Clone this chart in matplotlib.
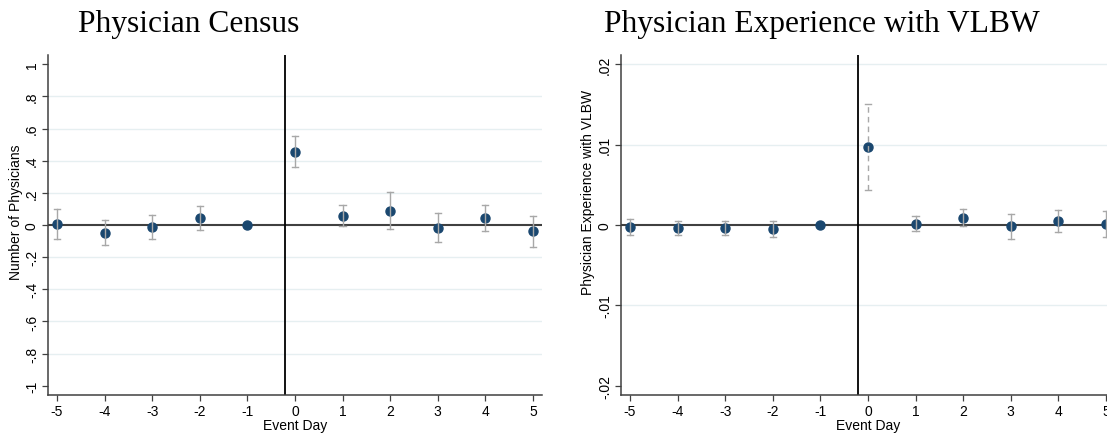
import numpy as np
import matplotlib.pyplot as plt

# Event-study estimates with 95% confidence intervals
event_day = [-5, -4, -3, -2, -1, 0, 1, 2, 3, 4, 5]

census_coef = [0.004, -0.050, -0.012, 0.041, 0.0, 0.456, 0.056, 0.089, -0.019, 0.046, -0.039]
census_hi = [0.100, 0.031, 0.064, 0.120, 0.0, 0.554, 0.124, 0.205, 0.075, 0.127, 0.058]
census_lo = [-0.090, -0.127, -0.085, -0.031, 0.0, 0.363, -0.008, -0.027, -0.106, -0.035, -0.137]

vlbw_coef = [-0.0002, -0.0004, -0.0004, -0.0005, 0.0, 0.00975, 0.00017, 0.0009, -0.0001, 0.00046, 0.0001]
vlbw_hi = [0.00075, 0.0005, 0.0005, 0.0005, 0.0, 0.0151, 0.0011, 0.0020, 0.0014, 0.0019, 0.00175]
vlbw_lo = [-0.0012, -0.0012, -0.0012, -0.0015, 0.0, 0.0044, -0.0008, -0.00017, -0.0017, -0.0009, -0.0015]

census_ticks = [-1, -0.8, -0.6, -0.4, -0.2, 0, 0.2, 0.4, 0.6, 0.8, 1]
census_ticklabels = ['-1', '-.8', '-.6', '-.4', '-.2', '0', '.2', '.4', '.6', '.8', '1']
vlbw_ticks = [-0.02, -0.01, 0, 0.01, 0.02]
vlbw_ticklabels = ['-.02', '-.01', '0', '.01', '.02']

navy = '#1a476f'
ci_gray = '#a8a8a8'
axis_gray = '#404040'
grid_col = '#e6eff1'

plt.rcParams['font.family'] = ['Liberation Sans', 'DejaVu Sans']
fig = plt.figure(figsize=(11.07, 4.35), dpi=100)

W, H = 1107, 435


def panel(left_px, ylim, ticks, ticklabels, grid_ticks, coef, lo, hi, dashed_day=None):
    right_px = left_px + 494
    ax = fig.add_axes([left_px / W, 1 - 396 / H, (right_px - left_px) / W, 340 / H])
    ax.set_xlim(-5.19, 5.19)
    ax.set_ylim(-ylim, ylim)
    for g in grid_ticks:
        ax.axhline(g, color=grid_col, lw=1.0, zorder=0)
    ax.axhline(0, color=axis_gray, lw=1.5, zorder=1)
    ax.axvline(-0.2, color='black', lw=1.3, zorder=1)
    ax.plot(event_day, coef, 'o', color=navy, ms=6.5, zorder=3)
    for d, c, l, h in zip(event_day, coef, lo, hi):
        if l == h:
            continue
        ls = (0, (4, 3)) if d == dashed_day else '-'
        ax.plot([d, d], [l, h], color=ci_gray, lw=1.0, ls=ls, zorder=4)
        ax.plot([d - 0.065, d + 0.065], [h, h], color=ci_gray, lw=1.0, zorder=4)
        ax.plot([d - 0.065, d + 0.065], [l, l], color=ci_gray, lw=1.0, zorder=4)
    ax.set_xticks(event_day)
    ax.set_xticklabels([str(d) for d in event_day], fontsize=10)
    ax.set_yticks(ticks)
    ax.set_yticklabels(ticklabels, fontsize=10, rotation=90, va='center')
    for s in ['top', 'right']:
        ax.spines[s].set_visible(False)
    for s in ['left', 'bottom']:
        ax.spines[s].set_color(axis_gray)
        ax.spines[s].set_linewidth(1.1)
    ax.tick_params(direction='out', length=4.5, width=0.9, color=axis_gray, pad=2)
    ax.set_xlabel('Event Day', fontsize=10, labelpad=0)
    return ax


ax1 = panel(48, 1.057, census_ticks, census_ticklabels,
            [-0.8, -0.6, -0.4, -0.2, 0.2, 0.4, 0.6, 0.8],
            census_coef, census_lo, census_hi)

ax2 = panel(621, 0.02114, vlbw_ticks, vlbw_ticklabels, [-0.01, 0.01, 0.02],
            vlbw_coef, vlbw_lo, vlbw_hi, dashed_day=0)

# y-axis titles
fig.text(16 / W, 1 - 212 / H, 'Number of Physicians', fontsize=10,
         rotation=90, ha='center', va='center')
fig.text(588 / W, 1 - 192 / H, 'Physician Experience with VLBW', fontsize=10,
         rotation=90, ha='center', va='center')

fig.text(189 / W, 1 - 32 / H, 'Physician Census', fontsize=22.7,
         family='Liberation Serif', ha='center', va='baseline')
fig.text(822 / W, 1 - 32 / H, 'Physician Experience with VLBW', fontsize=22.7,
         family='Liberation Serif', ha='center', va='baseline')

fig.savefig('out.png', dpi=100)
